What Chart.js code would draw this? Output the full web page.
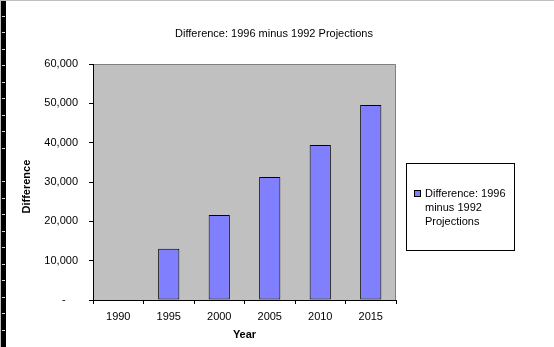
<!DOCTYPE html>
<html>
<head>
<meta charset="utf-8">
<script src="https://cdn.jsdelivr.net/npm/chart.js@4.4.1/dist/chart.umd.min.js"></script>
<style>
  html, body { margin: 0; padding: 0; background: #fff; }
  #wrap { position: relative; width: 554px; height: 347px; overflow: hidden; }
  #wrap canvas { position: absolute; left: 0; top: 0; }
  /* window ruler on the left and the thin frame line on top */
  #ruler {
    position: absolute; left: 0; top: 0; width: 6px; height: 347px;
    background:
      repeating-linear-gradient(to bottom, transparent 0 15.6px, #d8d8d8 15.6px 16.55px) 1px 0 / 3px 100% no-repeat,
      #000;
    border-left: 1px solid #c0c0c0;
    box-sizing: border-box;
  }
  #topline { position: absolute; left: 0; top: 0; width: 554px; height: 1px; background: #c0c0c0; }
</style>
</head>
<body>
<div id="wrap">
  <canvas id="chart" width="554" height="347"></canvas>
  <div id="ruler"></div>
  <div id="topline"></div>
</div>
<script>
// data
const years = ['1990', '1995', '2000', '2005', '2010', '2015'];
const difference = [0, 13000, 21600, 31300, 39400, 49600];
const yTickValues = [0, 10000, 20000, 30000, 40000, 50000, 60000];
const seriesLabel = 'Difference: 1996 minus 1992 Projections';
const chartTitle = 'Difference: 1996 minus 1992 Projections';
const xTitle = 'Year';
const yTitle = 'Difference';

const FONT = '"Liberation Sans", Arial, sans-serif';

// grey plot area, chart title and the boxed legend on the right
const excelLook = {
  id: 'excelLook',
  beforeDraw(chart) {
    const { ctx, chartArea: a } = chart;
    ctx.save();
    ctx.fillStyle = '#fff';
    ctx.fillRect(0, 0, chart.width, chart.height);
    ctx.fillStyle = '#c0c0c0';
    ctx.fillRect(a.left, a.top, a.right - a.left, a.bottom - a.top);
    ctx.strokeStyle = '#808080';
    ctx.lineWidth = 1;
    ctx.beginPath();
    ctx.moveTo(a.left, a.top + 0.5);
    ctx.lineTo(a.right - 0.5, a.top + 0.5);
    ctx.lineTo(a.right - 0.5, a.bottom);
    ctx.stroke();
    ctx.restore();
  },
  afterDraw(chart, args, opts) {
    const ctx = chart.ctx;
    ctx.save();
    ctx.fillStyle = '#000';
    ctx.font = '11px ' + FONT;
    ctx.textAlign = 'center';
    ctx.textBaseline = 'alphabetic';
    ctx.fillText(opts.title, opts.titleX, opts.titleY);

    // legend box
    const b = opts.box;
    ctx.fillStyle = '#fff';
    ctx.fillRect(b.x, b.y, b.w, b.h);
    ctx.strokeStyle = '#000';
    ctx.strokeRect(b.x + 0.5, b.y + 0.5, b.w - 1, b.h - 1);

    const ds = chart.data.datasets[0];
    // word wrap the series label
    const words = ds.label.split(' ');
    const lines = [];
    let cur = '';
    words.forEach(w => {
      const test = cur ? cur + ' ' + w : w;
      if (ctx.measureText(test).width > opts.maxTextWidth && cur) {
        lines.push(cur);
        cur = w;
      } else {
        cur = test;
      }
    });
    if (cur) lines.push(cur);

    const lh = 14;
    const firstBase = b.y + b.h / 2 - (lines.length - 1) * lh / 2 + 4;
    ctx.fillStyle = ds.backgroundColor;
    ctx.fillRect(b.x + 8.5, firstBase - 6.5, 6, 6);
    ctx.strokeStyle = '#000';
    ctx.strokeRect(b.x + 8.5, firstBase - 6.5, 6, 6);
    ctx.fillStyle = '#000';
    ctx.textAlign = 'left';
    lines.forEach((ln, i) => ctx.fillText(ln, b.x + 19, firstBase + i * lh));
    ctx.restore();
  }
};

new Chart(document.getElementById('chart'), {
  type: 'bar',
  data: {
    labels: years,
    datasets: [{
      label: seriesLabel,
      data: difference,
      backgroundColor: '#8080ff',
      borderColor: '#000',
      borderWidth: 1,
      borderSkipped: false,
      barPercentage: 0.42,
      categoryPercentage: 1
    }]
  },
  options: {
    responsive: false,
    animation: false,
    devicePixelRatio: 1,
    layout: { padding: { left: 0, top: 64, right: 158, bottom: 0 } },
    plugins: {
      legend: { display: false },
      title: { display: false },
      tooltip: { enabled: false },
      excelLook: {
        title: chartTitle,
        titleX: 274,
        titleY: 37,
        box: { x: 406, y: 163, w: 109, h: 88 },
        maxTextWidth: 90
      }
    },
    scales: {
      x: {
        offset: true,
        grid: { display: true, offset: true, drawOnChartArea: false, drawTicks: true, tickLength: 4, color: '#000' },
        border: { display: true, color: '#000', width: 1 },
        ticks: { color: '#000', font: { family: FONT, size: 11 }, padding: 6, maxRotation: 0 },
        title: { display: true, text: xTitle, color: '#000', font: { family: FONT, size: 11, weight: 'bold' }, padding: { top: 0, bottom: 5 } },
        afterFit(scale) { scale.height = 47; }
      },
      y: {
        min: 0,
        max: 60000,
        afterBuildTicks(scale) { scale.ticks = yTickValues.map(v => ({ value: v })); },
        grid: { display: true, drawOnChartArea: false, drawTicks: true, tickLength: 4, color: '#000' },
        border: { display: true, color: '#000', width: 1 },
        ticks: {
          color: '#000',
          font: { family: FONT, size: 11 },
          padding: 11,
          callback: v => v === 0 ? '-    ' : v.toLocaleString('en-US')
        },
        // trailing spaces nudge the rotated title a little lower, as in the original
        title: { display: true, text: yTitle + '   ', color: '#000', font: { family: FONT, size: 11, weight: 'bold' }, padding: { top: 20, bottom: 0 } },
        afterFit(scale) { scale.width = 93; }
      }
    }
  },
  plugins: [excelLook]
});
</script>
</body>
</html>
